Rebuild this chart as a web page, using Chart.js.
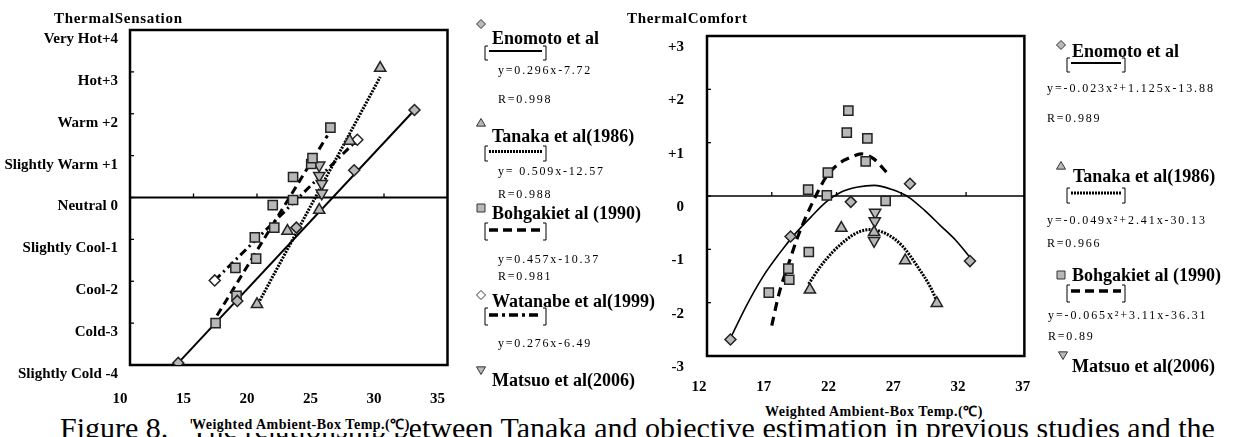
<!DOCTYPE html>
<html><head><meta charset="utf-8">
<script src="https://cdn.jsdelivr.net/npm/chart.js@4.4.1/dist/chart.umd.min.js"></script>
<style>
html,body{margin:0;padding:0;background:#fff;}
#wrap{position:relative;width:1245px;height:437px;overflow:hidden;background:#fff;}
#c1,#c2{position:absolute;top:0;}
#c1{left:0;} #c2{left:560px;}
.t{position:absolute;white-space:nowrap;color:#000;line-height:1;font-family:"Liberation Serif",serif;}
.lg{font-weight:bold;font-size:18px;}
.eq{font-size:12px;letter-spacing:1.8px;}
.ax{font-weight:bold;font-size:14px;letter-spacing:0.5px;background:#fff;padding:1px 0;}
.ti{font-weight:bold;font-size:15px;letter-spacing:0.7px;}
.cap{font-size:30px;}
svg{position:absolute;left:0;top:0;}
</style></head>
<body><div id="wrap">
<div class="t cap" style="left:60px;top:413px;">Figure 8.&nbsp;&nbsp; The relationship between Tanaka and objective estimation in previous studies and the</div>
<canvas id="c1" width="480" height="437"></canvas>
<canvas id="c2" width="500" height="437"></canvas>
<svg width="1245" height="437" id="lg"></svg>
<div class="t ti" style="left:54px;top:11px;">ThermalSensation</div>
<div class="t ti" style="left:627px;top:11px;">ThermalComfort</div>
<div class="t ax" style="left:192px;top:417px;">Weighted Ambient-Box Temp.(℃)</div>
<div class="t ax" style="left:765px;top:404px;">Weighted Ambient-Box Temp.(℃)</div>

<div class="t lg" style="left:492px;top:29px;">Enomoto et al</div>
<div class="t eq" style="left:498px;top:64px;">y=0.296x-7.72</div>
<div class="t eq" style="left:498px;top:93px;">R=0.998</div>
<div class="t lg" style="left:492px;top:127px;">Tanaka et al(1986)</div>
<div class="t eq" style="left:498px;top:165px;">y= 0.509x-12.57</div>
<div class="t eq" style="left:498px;top:188px;">R=0.988</div>
<div class="t lg" style="left:492px;top:204px;">Bohgakiet al (1990)</div>
<div class="t eq" style="left:498px;top:253px;">y=0.457x-10.37</div>
<div class="t eq" style="left:498px;top:270px;">R=0.981</div>
<div class="t lg" style="left:492px;top:292px;">Watanabe et al(1999)</div>
<div class="t eq" style="left:498px;top:337px;">y=0.276x-6.49</div>
<div class="t lg" style="left:492px;top:371px;">Matsuo et al(2006)</div>

<div class="t lg" style="left:1072px;top:42px;">Enomoto et al</div>
<div class="t eq" style="left:1047px;top:82px;letter-spacing:1.9px;">y=-0.023x²+1.125x-13.88</div>
<div class="t eq" style="left:1047px;top:112px;">R=0.989</div>
<div class="t lg" style="left:1073px;top:167px;">Tanaka et al(1986)</div>
<div class="t eq" style="left:1047px;top:214px;letter-spacing:1.9px;">y=-0.049x²+2.41x-30.13</div>
<div class="t eq" style="left:1047px;top:237px;">R=0.966</div>
<div class="t lg" style="left:1072px;top:266px;">Bohgakiet al (1990)</div>
<div class="t eq" style="left:1048px;top:309px;letter-spacing:1.9px;">y=-0.065x²+3.11x-36.31</div>
<div class="t eq" style="left:1048px;top:330px;">R=0.89</div>
<div class="t lg" style="left:1072px;top:357px;">Matsuo et al(2006)</div>
</div>
<script>
// ---------- Left chart: Thermal Sensation ----------
const sensationLabels = ['Slightly Cold -4','Cold-3','Cool-2','Slightly Cool-1','Neutral 0','Slightly Warm +1','Warm +2','Hot+3','Very Hot+4'];
const xTicksLeft = [10,15,20,25,30,35];

const enoXL = [13.8, 18.45, 23.1, 27.65, 32.4];
const enoYL = [-3.95, -2.47, -0.72, 0.65, 2.09];
const tanXL = [20.0, 22.4, 24.9, 27.3, 29.7];
const tanYL = [-2.55, -0.80, -0.30, 1.35, 3.09];
const bohXL = [16.74, 18.39, 18.3, 19.93, 19.83, 21.36, 21.24, 22.84, 22.84, 24.27, 24.37, 25.78];
const bohYL = [-3.0, -2.35, -1.68, -1.46, -0.95, -0.72, -0.18, -0.06, 0.49, 0.80, 0.94, 1.67];
const wtnXL = [16.67, 27.9];
const wtnYL = [-1.98, 1.38];
const matXL = [24.9, 24.9, 25.1, 25.1];
const matYL = [0.77, 0.52, 0.33, 0.10];

const enoFitXL = [13.8, 32.4];
const enoFitYL = [-3.95, 2.09];
const tanFitXL = [20.1, 29.7];
const tanFitYL = [-2.53, 2.88];
const bohFitXL = [16.85, 25.55];
const bohFitYL = [-2.82, 1.48];
const wtnFitXL = [16.67, 27.9];
const wtnFitYL = [-1.98, 1.38];

// ---------- Right chart: Thermal Comfort ----------
const comfortLabels = ['-3','-2','-1','0','+1','+2','+3'];
const xTicksRight = [12,17,22,27,32,37];

const enoXR = [13.81, 18.45, 23.1, 27.67, 32.3];
const enoYR = [-2.69, -0.76, -0.11, 0.23, -1.22];
const tanXR = [19.94, 22.37, 24.9, 27.3, 29.74];
const tanYR = [-1.76, -0.60, -0.68, -1.21, -2.01];
const bohXR = [16.77, 18.28, 18.35, 19.86, 19.81, 21.25, 21.33, 22.91, 22.79, 24.38, 24.25, 25.79];
const bohYR = [-1.81, -1.36, -1.57, -1.05, 0.12, 0.01, 0.44, 1.60, 1.19, 1.08, 0.65, -0.09];
const matXR = [24.98, 24.95, 24.9];
const matYR = [-0.31, -0.47, -0.84];

const enoCurveX = [13.9, 15.1, 16.3, 17.55, 18.8, 20.0, 21.2, 22.4, 23.65, 24.9, 26.3, 27.55, 28.8, 30.0, 31.2, 32.3];
const enoCurveY = [-2.62, -2.03, -1.52, -1.09, -0.71, -0.40, -0.11, 0.08, 0.17, 0.20, 0.12, -0.02, -0.27, -0.55, -0.83, -1.15];
const bohCurveX = [17.0, 17.55, 18.3, 19.0, 19.75, 20.5, 21.2, 22.2, 23.15, 23.9, 24.85, 25.95];
const bohCurveY = [-2.43, -1.84, -1.27, -0.77, -0.33, 0.05, 0.36, 0.61, 0.73, 0.79, 0.70, 0.42];
const tanCurveX = [19.85, 20.7, 21.7, 22.7, 23.65, 24.6, 25.85, 27.05, 28.3, 29.25, 29.85];
const tanCurveY = [-1.65, -1.34, -1.05, -0.83, -0.68, -0.63, -0.71, -0.93, -1.34, -1.71, -2.03];

const pts = (xs, ys) => xs.map((x, i) => ({x, y: ys[i]}));
const GRAY = '#b8b8b8', EDGE = '#222';

Chart.defaults.font.family = '"Liberation Serif", serif';
Chart.defaults.font.weight = 'bold';
Chart.defaults.font.size = 15;
Chart.defaults.color = '#000';

const frame = {
  id: 'frame',
  beforeDraw(chart) {
    const {ctx, width, height} = chart;
    ctx.save(); ctx.fillStyle = 'rgba(0,0,0,0)'; ctx.restore();
  },
  beforeDatasetsDraw(chart, args, o) {
    const {ctx, chartArea: a, scales: {x, y}} = chart;
    ctx.save();
    ctx.fillStyle = '#fff';
    ctx.fillRect(a.left, a.top, a.right - a.left, a.bottom - a.top);
    ctx.strokeStyle = '#000';
    const y0 = y.getPixelForValue(0);
    ctx.lineWidth = o.zero;
    ctx.beginPath(); ctx.moveTo(a.left, y0); ctx.lineTo(a.right, y0); ctx.stroke();
    ctx.lineWidth = 1.3;
    x.ticks.forEach(t => {
      const px = x.getPixelForValue(t.value);
      if (px > a.left + 2 && px < a.right - 2) { ctx.beginPath(); ctx.moveTo(px, y0); ctx.lineTo(px, y0 - 4); ctx.stroke(); }
    });
    y.ticks.forEach(t => {
      const py = y.getPixelForValue(t.value);
      if (py > a.top + 2 && py < a.bottom - 2) { ctx.beginPath(); ctx.moveTo(a.left, py); ctx.lineTo(a.left + 4, py); ctx.stroke(); }
    });
    ctx.lineWidth = o.border;
    ctx.strokeRect(a.left, a.top, a.right - a.left, a.bottom - a.top);
    ctx.restore();
  }
};

function marker(style, data, r, fill, rot) {
  return {data, showLine: false, pointStyle: style, pointRadius: r, pointHoverRadius: r,
    pointRotation: rot || 0, backgroundColor: fill || GRAY, borderColor: EDGE, borderWidth: 1.5, order: 1};
}
function fit(data, width, dash, curve) {
  return {data, showLine: true, pointRadius: 0, borderColor: '#000', borderWidth: width,
    borderDash: dash, tension: curve ? 0.4 : 0, cubicInterpolationMode: curve ? 'monotone' : 'default',
    borderCapStyle: 'butt', fill: false, order: 2};
}

new Chart(document.getElementById('c1'), {
  type: 'scatter',
  data: {datasets: [
    fit(pts(enoFitXL, enoFitYL), 2, []),
    fit(pts(tanFitXL, tanFitYL), 3, [2, 1.2]),
    fit(pts(bohFitXL, bohFitYL), 3, [8, 5]),
    fit(pts(wtnFitXL, wtnFitYL), 3, [8, 4, 2, 4]),
    marker('rectRot', pts(enoXL, enoYL), 5.5),
    marker('triangle', pts(tanXL, tanYL), 6.5),
    marker('rect', pts(bohXL, bohYL), 6.5),
    marker('rectRot', pts(wtnXL, wtnYL), 5.5, '#fff'),
    marker('triangle', pts(matXL, matYL), 6.5, GRAY, 180)
  ]},
  options: {
    responsive: false, animation: false, events: [],
    layout: {padding: {left: 0, top: 30, right: 13, bottom: 0}},
    plugins: {legend: {display: false}, tooltip: {enabled: false}, frame: {zero: 2, border: 2.5}},
    scales: {
      x: {type: 'linear', min: 10, max: 35,
        grid: {display: false, drawTicks: false}, border: {display: false},
        afterFit(s) { s.height = 72; },
        afterBuildTicks(s) { s.ticks = xTicksLeft.map(v => ({value: v})); },
        ticks: {padding: 25, labelOffset: -10, autoSkip: false, maxRotation: 0}},
      y: {type: 'linear', min: -4, max: 4,
        grid: {display: false, drawTicks: false}, border: {display: false},
        afterFit(s) { s.width = 130; },
        afterBuildTicks(s) { s.ticks = sensationLabels.map((l, i) => ({value: i - 4})); },
        ticks: {padding: 12, labelOffset: 9, autoSkip: false, callback: (v) => sensationLabels[Math.round(v) + 4]}}
    }
  },
  plugins: [frame]
});

new Chart(document.getElementById('c2'), {
  type: 'scatter',
  data: {datasets: [
    fit(pts(enoCurveX, enoCurveY), 1.6, [], true),
    fit(pts(tanCurveX, tanCurveY), 3, [2, 1.2], true),
    fit(pts(bohCurveX, bohCurveY), 3.2, [9, 6], true),
    marker('rectRot', pts(enoXR, enoYR), 5.5),
    marker('triangle', pts(tanXR, tanYR), 6.5),
    marker('rect', pts(bohXR, bohYR), 6.5),
    marker('triangle', pts(matXR, matYR), 6.5, GRAY, 180)
  ]},
  options: {
    responsive: false, animation: false, events: [],
    layout: {padding: {left: 0, top: 36, right: 17, bottom: 0}},
    plugins: {legend: {display: false}, tooltip: {enabled: false}, frame: {zero: 1.6, border: 2.5}},
    scales: {
      x: {type: 'linear', min: 12, max: 36.5,
        grid: {display: false, drawTicks: false}, border: {display: false},
        afterFit(s) { s.height = 81; },
        afterBuildTicks(s) { s.ticks = xTicksRight.map(v => ({value: v})); },
        ticks: {padding: 22, labelOffset: -8, autoSkip: false, maxRotation: 0}},
      y: {type: 'linear', min: -3, max: 3,
        grid: {display: false, drawTicks: false}, border: {display: false},
        afterFit(s) { s.width = 147; },
        afterBuildTicks(s) { s.ticks = comfortLabels.map((l, i) => ({value: i - 3})); },
        ticks: {padding: 23, labelOffset: 11, autoSkip: false, callback: (v) => comfortLabels[Math.round(v) + 3]}}
    }
  },
  plugins: [frame]
});

// ---------- legend symbols (SVG) ----------
const svg = document.getElementById('lg');
const NS = 'http://www.w3.org/2000/svg';
function el(tag, attrs) { const e = document.createElementNS(NS, tag); for (const k in attrs) e.setAttribute(k, attrs[k]); svg.appendChild(e); return e; }
function sym(kind, cx, cy, fill) {
  const r = 4.5; let p;
  if (kind === 'diamond') p = `${cx-r},${cy} ${cx},${cy-r} ${cx+r},${cy} ${cx},${cy+r}`;
  else if (kind === 'tri') p = `${cx},${cy-r} ${cx+r},${cy+r*0.7} ${cx-r},${cy+r*0.7}`;
  else if (kind === 'itri') p = `${cx},${cy+r} ${cx+r},${cy-r*0.7} ${cx-r},${cy-r*0.7}`;
  else p = `${cx-r+0.5},${cy-r+0.5} ${cx+r-0.5},${cy-r+0.5} ${cx+r-0.5},${cy+r-0.5} ${cx-r+0.5},${cy+r-0.5}`;
  el('polygon', {points: p, fill: fill || GRAY, stroke: '#333', 'stroke-width': 1});
}
function sample(x1, x2, yTop, yBot, yLine, dash, w) {
  el('path', {d: `M${x1+3},${yTop} L${x1},${yTop} L${x1},${yBot} L${x1+3},${yBot}`, fill: 'none', stroke: '#000', 'stroke-width': 1});
  el('path', {d: `M${x2-3},${yTop} L${x2},${yTop} L${x2},${yBot} L${x2-3},${yBot}`, fill: 'none', stroke: '#000', 'stroke-width': 1});
  const a = {x1: x1 + 4, x2: x2 - 4, y1: yLine, y2: yLine, stroke: '#000', 'stroke-width': w};
  if (dash) a['stroke-dasharray'] = dash;
  el('line', a);
}
// left legend
sym('diamond', 481, 24); sample(485, 546, 46, 60, 51, null, 2);
sym('tri', 481, 123); sample(485, 546, 146, 161, 151.5, '2,1', 3);
sym('sq', 481, 208); sample(485, 546, 223, 240, 230, '9,5', 3.5);
sym('diamond', 481, 295, '#fff'); sample(485, 546, 308, 325, 315, '9,4,3,4', 3.5);
sym('itri', 481, 370);
// right legend
sym('diamond', 1061, 45); sample(1067, 1125, 58, 72, 63, null, 2);
sym('tri', 1061, 166); sample(1067, 1125, 188, 203, 193, '2,1', 3);
sym('sq', 1061, 275); sample(1067, 1125, 285, 302, 291, '9,5', 3.5);
sym('itri', 1063, 355);
</script>
</body></html>
